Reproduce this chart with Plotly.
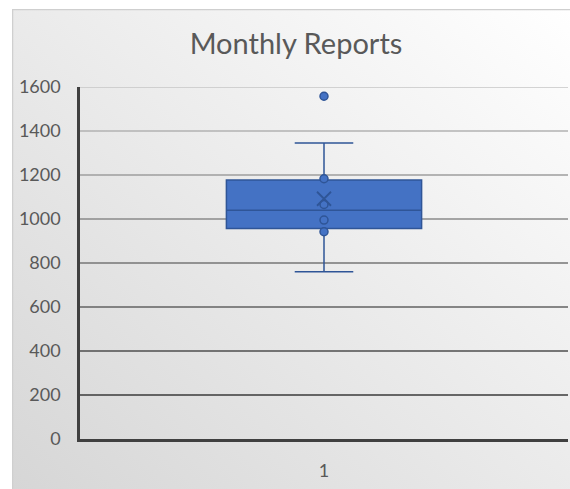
import base64
import plotly.graph_objects as go

# ---- data ----
categories = ["1"]
q1 = [957]
median = [1040]
q3 = [1177]
lower_whisker = [760]
upper_whisker = [1345]
mean_values = [1092]
point_values = [1558, 1183, 1066, 995, 942]
y_ticks = [0, 200, 400, 600, 800, 1000, 1200, 1400, 1600]

# ---- styling ----
W, H = 570, 489
ML, MR, MT, MB = 80, 2, 87, 50
PW, PH = W - ML - MR, H - MT - MB
BOX_FILL = "#4472C4"
BOX_LINE = "#2F5597"
TEXT = "#595959"

# background: light gradient with a thin border on the left and top (Excel style)
bx0, by0 = 12, 9
bw, bh = W - bx0, H - by0
svg = f'''<svg xmlns="http://www.w3.org/2000/svg" width="{bw}" height="{bh}" viewBox="0 0 {bw} {bh}" preserveAspectRatio="none">
<defs><linearGradient id="g" x1="1" y1="0" x2="0" y2="1">
<stop offset="0" stop-color="#ffffff"/><stop offset="1" stop-color="#d6d6d6"/></linearGradient></defs>
<rect x="0" y="0" width="{bw}" height="{bh}" fill="url(#g)"/>
<line x1="0.5" y1="0" x2="0.5" y2="{bh}" stroke="#cfcfcf" stroke-width="1.5"/>
<line x1="0" y1="0.5" x2="{bw}" y2="0.5" stroke="#cfcfcf" stroke-width="1.5"/>
</svg>'''
svg_uri = "data:image/svg+xml;base64," + base64.b64encode(svg.encode()).decode()

fig = go.Figure()

fig.add_trace(go.Box(
    x=categories,
    q1=q1, median=median, q3=q3,
    lowerfence=lower_whisker, upperfence=upper_whisker,
    fillcolor=BOX_FILL,
    line=dict(color=BOX_LINE, width=1.5),
    whiskerwidth=0.3,
    width=0.4,
    boxpoints=False,
    hoverinfo="skip",
    showlegend=False,
))

fig.add_trace(go.Scatter(
    x=categories * len(point_values),
    y=point_values,
    mode="markers",
    marker=dict(symbol="circle", size=8, color=BOX_FILL,
                line=dict(color=BOX_LINE, width=1.5)),
    showlegend=False,
))

fig.add_trace(go.Scatter(
    x=categories,
    y=mean_values,
    mode="markers",
    marker=dict(symbol="x-thin-open", size=14, color=BOX_LINE,
                line=dict(color=BOX_LINE, width=1.8)),
    showlegend=False,
))

# gridlines, getting darker toward the bottom as in the reference
def grid_color(v):
    t = v / max(y_ticks)
    c0, c1 = 0x26, 0xc6
    c = int(c0 + (c1 - c0) * t)
    return f"rgb({c},{c},{c})"

shapes = []
for v in y_ticks[1:]:
    shapes.append(dict(type="line", xref="paper", yref="y", x0=0, x1=1, y0=v, y1=v,
                       line=dict(color=grid_color(v), width=1.5), layer="below"))

fig.update_layout(
    width=W, height=H,
    margin=dict(l=ML, r=MR, t=MT, b=MB, pad=0),
    paper_bgcolor="white",
    plot_bgcolor="rgba(0,0,0,0)",
    font=dict(family="Lato, 'Open Sans', sans-serif", color=TEXT, size=18),
    title=dict(text="Monthly Reports", x=296 / W, xanchor="center",
               y=1 - 44 / H, yanchor="middle", yref="container",
               font=dict(size=29, color=TEXT)),
    images=[dict(source=svg_uri, xref="paper", yref="paper",
                 x=(bx0 - ML) / PW, y=(H - MB - by0) / PH,
                 sizex=bw / PW, sizey=bh / PH, sizing="stretch",
                 xanchor="left", yanchor="top", layer="below")],
    shapes=shapes,
    xaxis=dict(type="category", range=[-0.5, 0.5], showgrid=False, zeroline=False,
               showline=True, linecolor="#404040", linewidth=2.5,
               ticks="", ticklabelstandoff=14, tickfont=dict(size=18, color=TEXT)),
    yaxis=dict(range=[0, 1600], tickvals=y_ticks, showgrid=False, zeroline=False,
               showline=True, linecolor="#404040", linewidth=2.5,
               ticks="", ticklabelstandoff=13, tickfont=dict(size=18, color=TEXT)),
)

fig.write_html(
    "out.html",
    config={"displayModeBar": False},
    post_script="document.body.style.margin='0';document.body.style.overflow='hidden';"
                "document.documentElement.style.overflow='hidden';",
)
